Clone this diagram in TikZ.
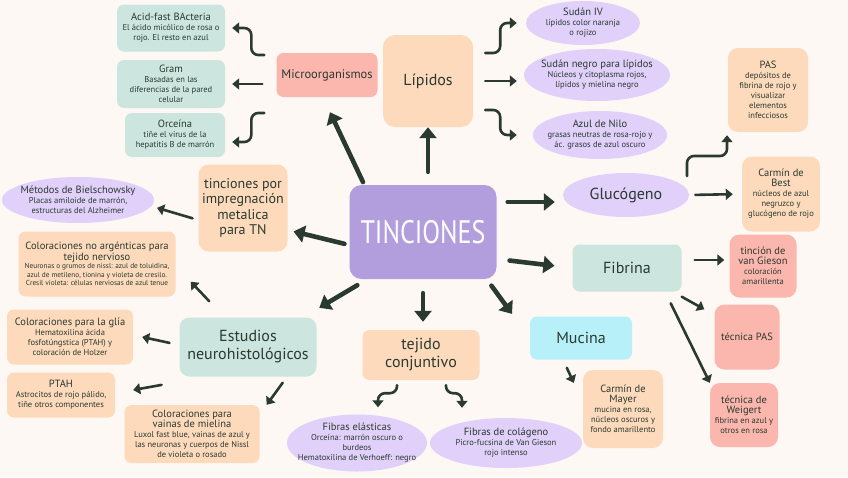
\documentclass[tikz,border=0pt]{standalone}
\usepackage{fontspec}
\setmainfont{PT Sans}
\usetikzlibrary{shapes.geometric,arrows.meta}
\definecolor{fondo}{RGB}{253,248,244}
\definecolor{tinta}{RGB}{42,58,48}
\definecolor{morado}{RGB}{178,158,220}
\definecolor{lila}{RGB}{224,208,250}
\definecolor{melon}{RGB}{253,218,188}
\definecolor{menta}{RGB}{204,229,223}
\definecolor{rosa}{RGB}{251,182,174}
\definecolor{cian}{RGB}{184,240,250}
\newcommand\cabf{\fontsize{10.5}{12}\selectfont}
\newcommand\txtf{\fontsize{8.5}{10}\selectfont}
\newcommand\bigf{\fontsize{16}{18}\selectfont}
\begin{document}
\begin{tikzpicture}[x=1pt, y=-1pt, line join=round, line cap=round, text=tinta, font=\txtf,
  caja/.style={rounded corners=7pt, align=center, inner sep=2pt},
  cmelon/.style={caja, fill=melon},
  cmenta/.style={caja, fill=menta},
  crosa/.style={caja, fill=rosa},
  ccian/.style={caja, fill=cian},
  ovalo/.style={ellipse, fill=lila, align=center, inner xsep=-12pt, inner ysep=-3pt},
  guia/.style={draw=tinta, line width=2.6pt, -{Triangle[length=7pt,width=11pt]}},
  guiab/.style={draw=tinta, line width=4.6pt, -{Triangle[length=11pt,width=17pt]}},
  codo/.style={guia, rounded corners=7pt}]
\fill[fondo] (0,0) rectangle (848,477);
\useasboundingbox (0,0) rectangle (848,477);

% centro
\node[caja, fill=morado, text=white, minimum width=147pt, minimum height=94pt, rounded corners=12pt, font=\fontsize{26}{30}\selectfont] (tinc) at (423,232) {\scalebox{1}[1.25]{TINCIONES}};

% microorganismos
\node[crosa, minimum width=101pt, minimum height=44pt, font=\fontsize{12.5}{14}\selectfont] (micro) at (327,75) {Microorganismos};
\node[cmenta, minimum width=108pt, minimum height=47pt] (acid) at (171,28) {{\cabf Acid-fast BActeria}\\El ácido micólico de rosa o\\rojo. El resto en azul};
\node[cmenta, minimum width=108pt, minimum height=48pt] (gram) at (171,84) {{\cabf Gram}\\Basadas en las\\diferencias de la pared\\celular};
\node[cmenta, minimum width=100pt, minimum height=44pt] (orce) at (175,135) {{\cabf Orceína}\\tiñe el virus de la\\hepatitis B de marrón};

% lipidos
\node[cmelon, minimum width=90pt, minimum height=92pt, rounded corners=12pt, font=\bigf] (lip) at (428,81) {Lípidos};
\node[ovalo, minimum width=114pt, minimum height=44pt] (suda4) at (583,23) {{\cabf Sudán IV}\\lípidos color naranja\\o rojizo};
\node[ovalo, minimum width=146pt, minimum height=52pt] (sudneg) at (597,75) {{\cabf Sudán negro para lípidos}\\Núcleos y citoplasma rojos,\\lípidos y mielina negro};
\node[ovalo, minimum width=134pt, minimum height=48pt] (nilo) at (600,135) {{\cabf Azul de Nilo}\\grasas neutras de rosa-rojo y\\ác. grasos de azul oscuro};

% glucogeno
\node[ovalo, minimum width=126pt, minimum height=44pt, font=\bigf] (gluc) at (626,195) {Glucógeno};
\node[cmelon, minimum width=80pt, minimum height=84pt, rounded corners=10pt] (pas) at (768,90) {{\cabf PAS}\\depósitos de\\fibrina de rojo y\\visualizar\\elementos\\infecciosos};
\node[cmelon, minimum width=78pt, minimum height=75pt, rounded corners=10pt] (best) at (781,194) {{\cabf Carmín de}\\{\cabf Best}\\núcleos de azul\\negruzco y\\glucógeno de rojo};

% fibrina
\node[cmenta, minimum width=109pt, minimum height=47pt, font=\bigf] (fib) at (627,268) {Fibrina};
\node[crosa, minimum width=67pt, minimum height=63pt, rounded corners=10pt] (vgies) at (763,266) {{\cabf tinción de}\\{\cabf van Gieson}\\coloración\\amarillenta};
\node[crosa, minimum width=65pt, minimum height=65pt, rounded corners=10pt, font=\cabf] (tpas) at (747,337) {técnica PAS};
\node[crosa, minimum width=68pt, minimum height=64pt, rounded corners=10pt] (weig) at (744,415) {{\cabf técnica de}\\{\cabf Weigert}\\fibrina en azul y\\otros en rosa};

% mucina
\node[ccian, minimum width=102pt, minimum height=43pt, font=\bigf] (muc) at (581,338) {Mucina};
\node[cmelon, minimum width=80pt, minimum height=78pt, rounded corners=10pt] (mayer) at (623,409) {{\cabf Carmín de}\\{\cabf Mayer}\\mucina en rosa,\\núcleos oscuros y\\fondo amarillento};

% tejido conjuntivo
\node[cmelon, minimum width=117pt, minimum height=50pt, font=\bigf] (tej) at (421,355) {tejido\\conjuntivo};
\node[ovalo, minimum width=140pt, minimum height=57pt] (elas) at (357,443) {{\cabf Fibras elásticas}\\Orceína: marrón oscuro o\\burdeos\\Hematoxilina de Verhoeff: negro};
\node[ovalo, minimum width=152pt, minimum height=50pt] (colag) at (506,443) {{\cabf Fibras de colágeno}\\Picro-fucsina de Van Gieson\\rojo intenso};

% estudios neurohistologicos
\node[cmenta, minimum width=137pt, minimum height=59pt, rounded corners=10pt, font=\bigf] (neuro) at (248,347) {Estudios\\neurohistológicos};
\node[cmelon, minimum width=89pt, minimum height=87pt, rounded corners=10pt, font=\fontsize{14}{15.5}\selectfont] (impreg) at (243,208) {tinciones por\\impregnación\\metalica\\para TN};
\node[ovalo, minimum width=152pt, minimum height=46pt] (biel) at (78,200) {{\cabf Métodos de Bielschowsky}\\Placas amiloide de marrón,\\estructuras del Alzheimer};
\node[cmelon, minimum width=157pt, minimum height=65pt, font=\fontsize{7.3}{8.6}\selectfont] (noarg) at (97,264) {{\cabf Coloraciones no argénticas para}\\{\cabf tejido nervioso}\\Neuronas o grumos de nissl: azul de toluidina,\\azul de metileno, tionina y violeta de cresilo.\\Cresil violeta: células nerviosas de azul tenue};
\node[cmelon, minimum width=126pt, minimum height=55pt] (glia) at (70,337) {{\cabf Coloraciones para la glía}\\Hematoxilina ácida\\fosfotúngstica (PTAH) y\\coloración de Holzer};
\node[cmelon, minimum width=108pt, minimum height=45pt] (ptah) at (61,395) {{\cabf PTAH}\\Astrocitos de rojo pálido,\\tiñe otros componentes};
\node[cmelon, minimum width=135pt, minimum height=58pt] (vainas) at (192,434) {{\cabf Coloraciones para}\\{\cabf vainas de mielina}\\Luxol fast blue, vainas de azul y\\las neuronas y cuerpos de Nissl\\de violeta o rosado};

% flechas desde el centro
\draw[guiab, shorten <=3pt] ([xshift=15pt]tinc.north west) -- ([shift={(3pt,-15pt)}]micro.south);
\draw[guiab, shorten <=13pt] (tinc.north -| lip.south) -- (lip.south);
\draw[guiab, shorten <=11pt, shorten >=8pt] ([yshift=30pt]tinc.east) -- ([yshift=-7pt]gluc.west);
\draw[guiab, shorten <=13pt, shorten >=18pt] ([yshift=-27pt]tinc.east) -- (fib.west);
\draw[guiab, shorten <=8pt, shorten >=3pt] ([xshift=-10pt]tinc.south east) -- ([xshift=-16pt]muc.north west);
\draw[guiab, shorten <=14pt, shorten >=8pt] (tinc.south) -- (tinc.south |- tej.north);
\draw[guiab, shorten >=3pt] ([shift={(8pt,-6pt)}]tinc.south west) -- ([yshift=8pt]neuro.north east);
\draw[guiab, shorten <=5pt, shorten >=6pt] ([yshift=-13pt]tinc.west) -- ([yshift=-22pt]impreg.east);

% microorganismos
\draw[codo, shorten >=7pt] ([xshift=-12pt,yshift=20pt]micro.west) -- ++(-13,0) |- (acid.east);
\draw[guia, shorten <=14pt, shorten >=7pt] (micro.west |- gram.east) -- (gram.east);
\draw[codo, shorten >=7pt] ([xshift=-12pt,yshift=-38pt]micro.west) -- ++(-13,0) |- ([yshift=-7pt]orce.east);

% lipidos
\draw[codo, shorten >=9pt] ([xshift=12pt,yshift=28pt]lip.east) -- ++(15,0) |- (suda4.west);
\draw[guia, shorten <=12pt, shorten >=7pt] (lip.east) -- (lip.east -| sudneg.west);
\draw[codo, shorten >=16pt] ([xshift=12pt,yshift=-29pt]lip.east) -- ++(15,0) |- (nilo.west);

% glucogeno
\draw[codo, shorten >=3pt] ([shift={(61pt,19pt)}]gluc.center) -- ++(0,-20) -| ([xshift=-41pt]pas.south);
\draw[guia, shorten <=6pt, shorten >=9pt] (gluc.east) -- (best.west);

% fibrina
\draw[guia, shorten <=13pt, shorten >=5pt] ([yshift=8pt]fib.east) -- ([yshift=6pt]vgies.west);
\draw[guia] ([yshift=-5pt]fib.south east) -- ([shift={(-10pt,-5pt)}]tpas.north west);
\draw[guia, shorten <=13pt] ([xshift=38pt]fib.south) -- (weig.north west);

% mucina
\draw[guia, shorten <=9pt] ([xshift=-18pt]muc.south) -- ([shift={(-9pt,-13pt)}]mayer.north west);

% tejido conjuntivo
\draw[codo, shorten >=7pt] ([xshift=-24pt,yshift=-5pt]tej.south) -- ++(0,8) -| ([xshift=21pt]elas.north);
\draw[codo, shorten >=10pt] ([xshift=25pt,yshift=-5pt]tej.south) -- ++(0,8) -| ([xshift=-44pt]colag.north);

% neurohistologia
\draw[guia, shorten <=6pt, shorten >=3pt] ([yshift=-12pt]impreg.west) -- ([yshift=-7pt]biel.east);
\draw[guia] ([xshift=30pt,yshift=16pt]neuro.north west) -- ([shift={(15pt,15pt)}]noarg.south east);
\draw[guia, shorten <=10pt] ([yshift=2pt]neuro.west) -- ([xshift=9pt]glia.east);
\draw[guia, shorten <=18pt] ([yshift=-5pt]neuro.south west) -- ([shift={(18pt,5pt)}]ptah.east);
\draw[guia] ([xshift=-34pt,yshift=-6pt]neuro.south east) -- ([xshift=7pt]vainas.north east);
\end{tikzpicture}
\end{document}
